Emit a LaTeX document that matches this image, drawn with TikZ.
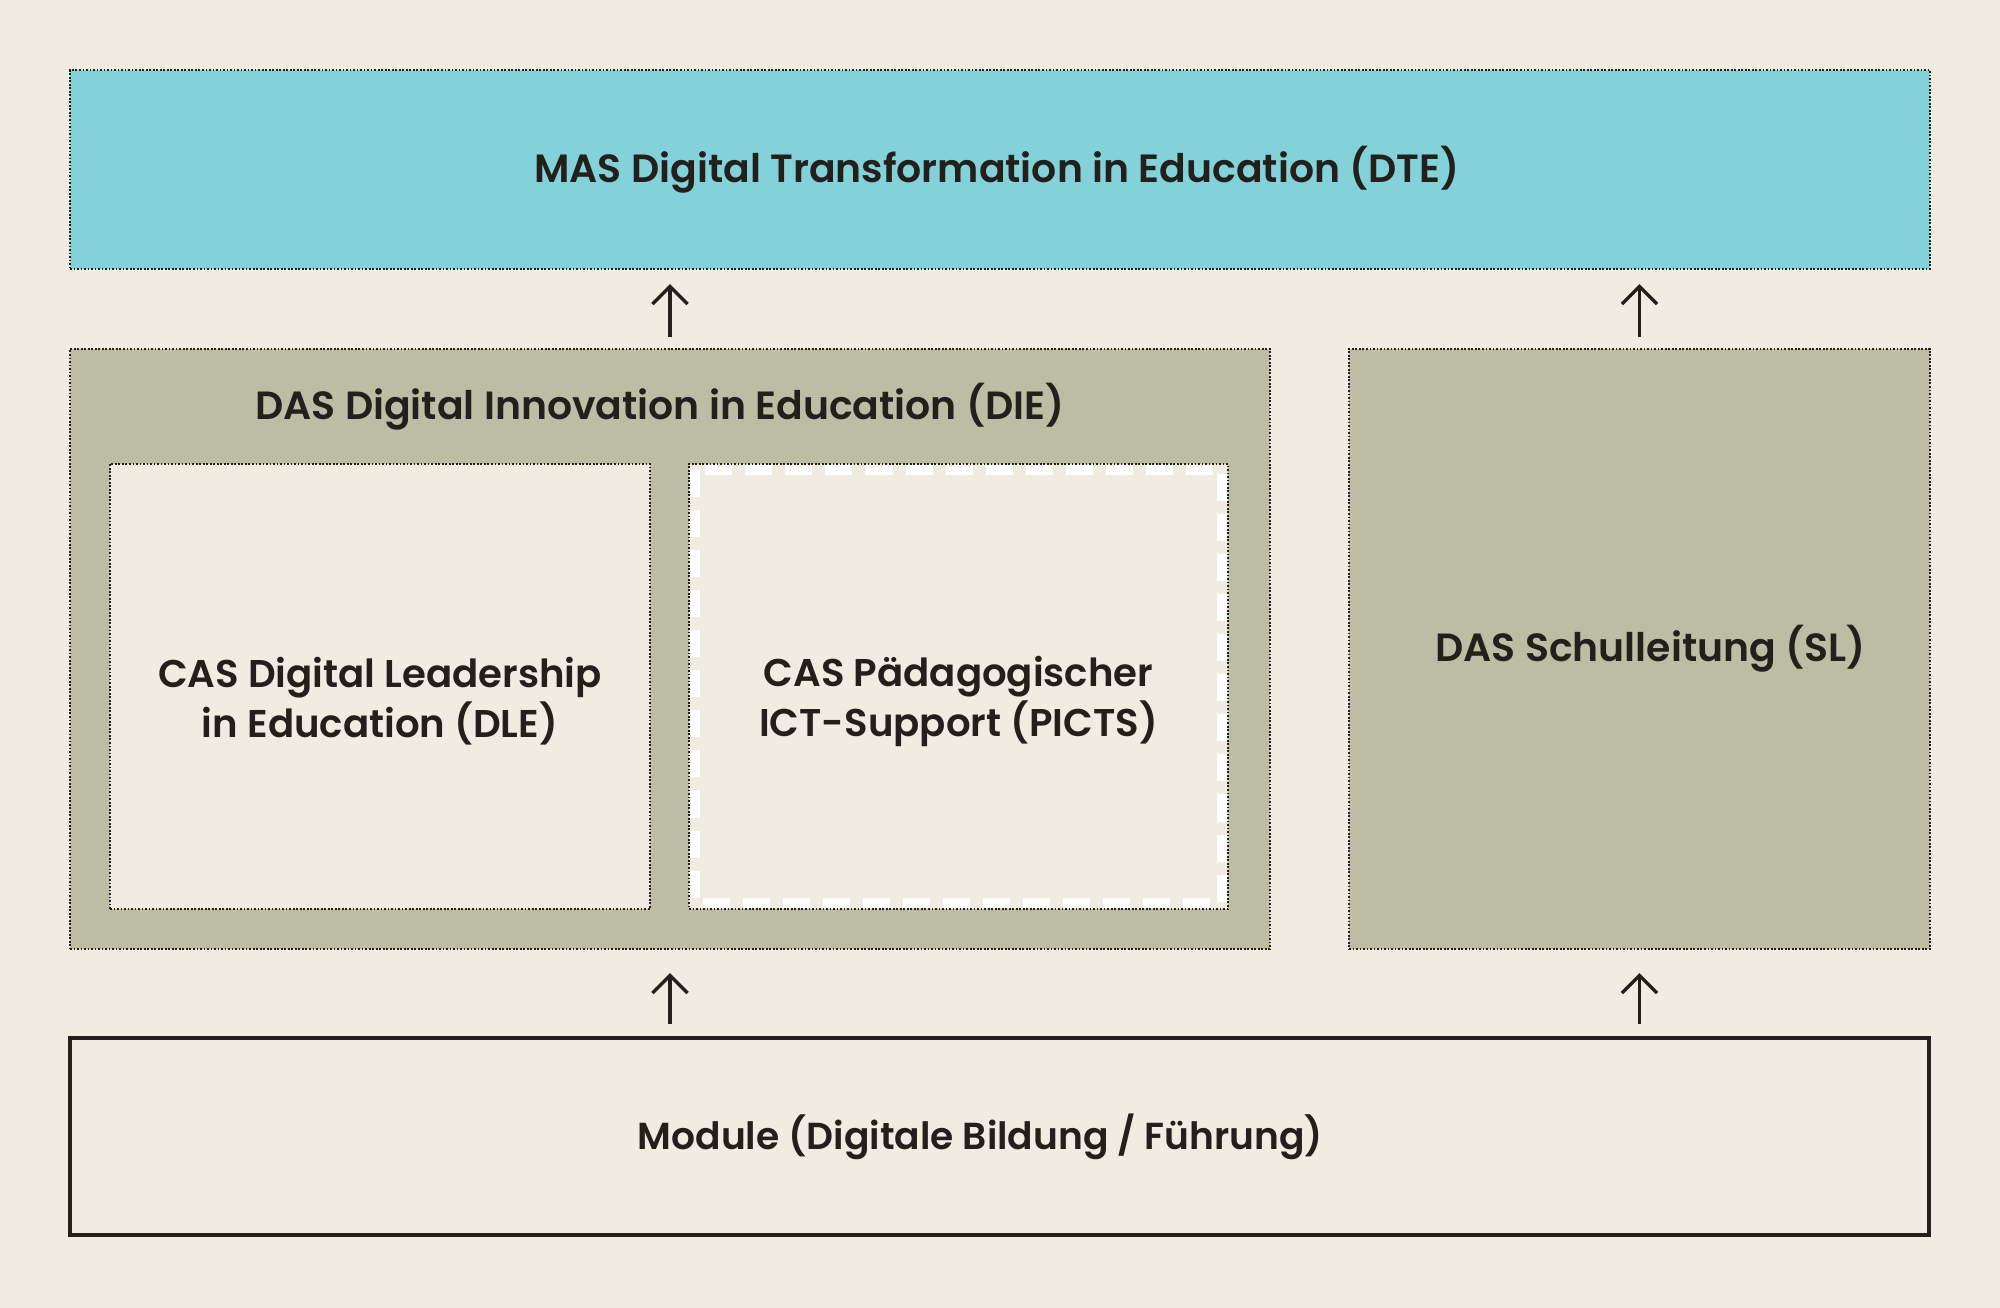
\documentclass[tikz,border=0pt]{standalone}
\usepackage{fontspec}
\setmainfont{Poppins}[UprightFont=* SemiBold]
\usetikzlibrary{arrows.meta}
\definecolor{paper}{HTML}{F0ECE2}
\definecolor{dtecyan}{HTML}{83D1D9}
\definecolor{olive}{HTML}{BDBDA5}
\definecolor{ink}{HTML}{231F1A}
\tikzset{
  dotbox/.style={draw=ink,line width=0.6pt,dash pattern=on 0.5pt off 0.5pt,inner sep=0,text=ink,align=center,font=\fontsize{11.2}{13}\selectfont},
  label text/.style={text=ink,align=center,font=\fontsize{11}{12.8}\selectfont},
  arr/.style={draw=ink,line width=0.95pt,-{Straight Barb[length=5pt,width=10pt,line width=0.95pt]}}
}
\begin{document}
\begin{tikzpicture}
\fill[paper] (0,0) rectangle (20,-13.08);
\useasboundingbox (0,0) rectangle (20,-13.08);

\node[dotbox,fill=dtecyan,minimum width=18.6cm,minimum height=1.99cm] (mas) at (10,-1.695) {MAS Digital Transformation in Education (DTE)\hspace*{0.06cm}};
\node[dotbox,fill=olive,minimum width=12cm,minimum height=6cm] (die) at (6.7,-6.49) {};
\node[dotbox,fill=olive,minimum width=5.81cm,minimum height=6cm] (sl) at (16.395,-6.49) {\hspace*{0.22cm}DAS Schulleitung (SL)};
\node[dotbox,fill=paper,minimum width=5.4cm,minimum height=4.45cm] (dle) at (3.8,-6.865) {};
\node[dotbox,fill=paper,minimum width=5.39cm,minimum height=4.45cm] (picts) at (9.585,-6.865) {};
\draw[white,line width=2.6pt,dash pattern=on 7.7pt off 3.7pt] ([shift={(0.07,-0.07)}]picts.north west) rectangle ([shift={(-0.07,0.07)}]picts.south east);
\node[label text] (dletext) at ([yshift=-0.15cm]dle.center) {CAS Digital Leadership\\in Education (DLE)};
\node[label text] (pictstext) at ([yshift=-0.15cm]picts.center) {CAS Pädagogischer\\ICT-Support (PICTS)};
\node[text=ink,font=\fontsize{11.2}{13}\selectfont] (dietitle) at (6.6,-4.07) {DAS Digital Innovation in Education (DIE)};
\node[draw=ink,line width=1.1pt,fill=paper,minimum width=18.59cm,minimum height=1.97cm,text=ink,font=\fontsize{10.7}{13}\selectfont] (module) at (9.995,-11.365) {Module (Digitale Bildung / Führung)\hspace*{0.38cm}};

\draw[arr,shorten <=0.11cm,shorten >=0.14cm] (die.north) -- (die.north |- mas.south);
\draw[arr,shorten <=0.11cm,shorten >=0.14cm] (sl.north) -- (sl.north |- mas.south);
\draw[arr,shorten <=0.12cm,shorten >=0.23cm] (module.north -| die.south) -- (die.south);
\draw[arr,shorten <=0.12cm,shorten >=0.23cm] (module.north -| sl.south) -- (sl.south);
\end{tikzpicture}
\end{document}
